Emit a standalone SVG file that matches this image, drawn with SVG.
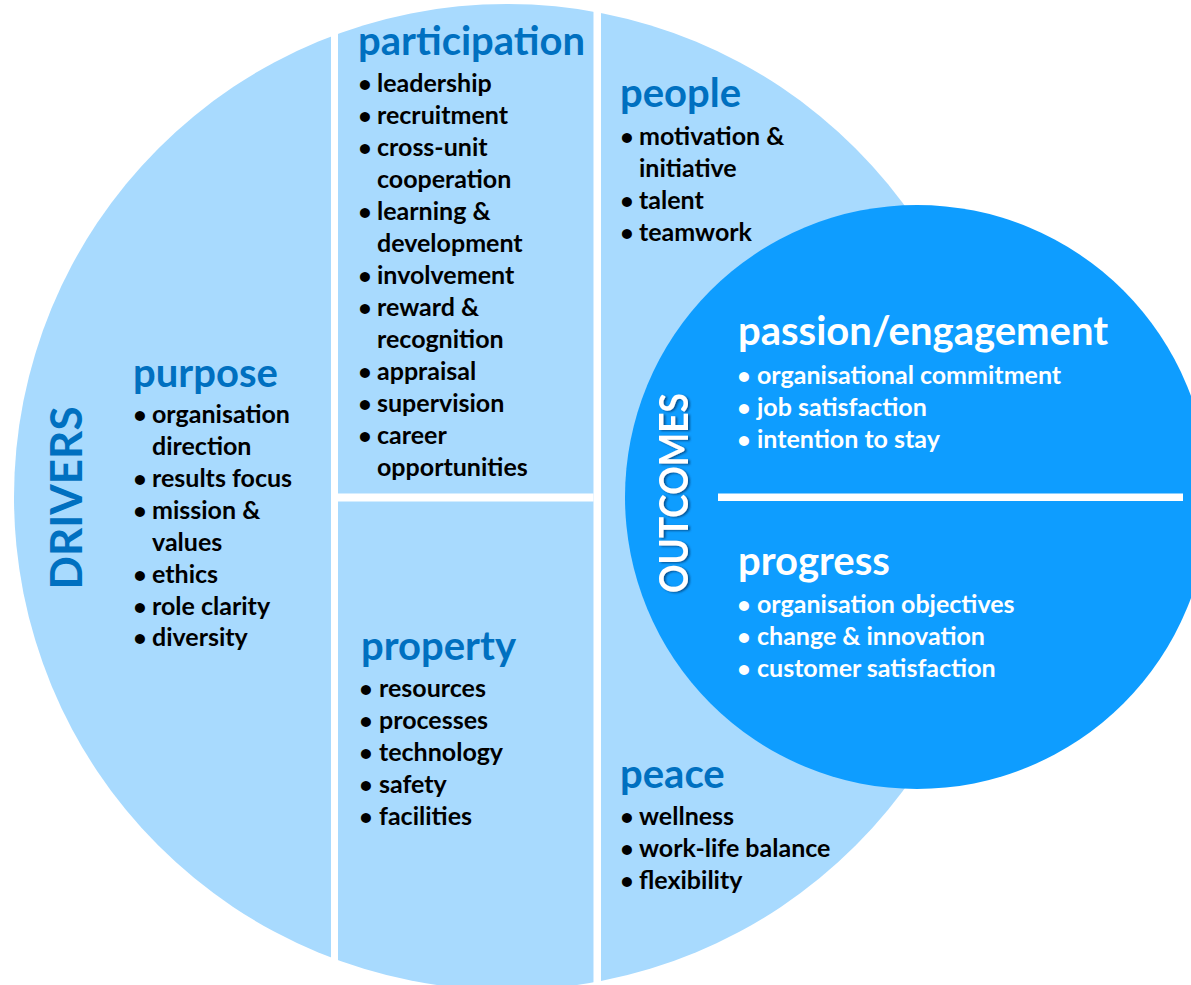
<svg xmlns="http://www.w3.org/2000/svg" width="1191" height="985" viewBox="0 0 1191 985">
  <defs>
    <style>
      text { font-family: "Lato", "Liberation Sans", sans-serif; font-weight: 700; }
      .head { font-size: 40px; fill: #0070C0; }
      .item { font-size: 25px; fill: #000000; }
      .bul { font-size: 23px; fill: #000000; text-anchor: middle; }
      .whead { font-size: 40px; fill: #FFFFFF; }
      .witem { font-size: 25px; fill: #FFFFFF; }
      .wbul { font-size: 23px; fill: #FFFFFF; text-anchor: middle; }
      .gap { fill: #FFFFFF; }
    </style>
    <filter id="shade" x="-20%" y="-20%" width="140%" height="140%">
      <feDropShadow dx="2" dy="1" stdDeviation="1.2" flood-color="#003A70" flood-opacity="0.75"/>
    </filter>
  </defs>

  <rect width="1191" height="985" fill="#FFFFFF"/>

  <!-- drivers disc, split into segments by white gaps -->
  <g id="drivers-disc">
    <circle cx="507" cy="497" r="493" fill="#A8DAFE"/>
    <rect class="gap" x="331" y="0" width="7" height="985"/>
    <rect class="gap" x="593.5" y="0" width="7.5" height="985"/>
    <rect class="gap" x="338" y="493.5" width="255.5" height="8"/>
  </g>

  <!-- outcomes disc -->
  <g id="outcomes-disc">
    <circle cx="917" cy="497" r="292" fill="#0E9DFF"/>
    <rect class="gap" x="718" y="493.5" width="465" height="7.5"/>
  </g>

  <g id="drivers-label">
    <text transform="translate(82,498) rotate(-90)" text-anchor="middle" style="font-size:44px;fill:#0070C0">DRIVERS</text>
  </g>

  <g id="outcomes-label" filter="url(#shade)">
    <text transform="translate(688,493) rotate(-90)" text-anchor="middle" textLength="200" lengthAdjust="spacingAndGlyphs" style="font-size:40px;fill:#FFFFFF">OUTCOMES</text>
  </g>

  <g id="purpose">
    <text class="head" x="133" y="387">purpose</text>
    <text class="bul" x="140" y="423">•</text><text class="item" x="152" y="423">organisation</text>
    <text class="item" x="152" y="455">direction</text>
    <text class="bul" x="140" y="487">•</text><text class="item" x="152" y="487">results focus</text>
    <text class="bul" x="140" y="519">•</text><text class="item" x="152" y="519">mission &amp;</text>
    <text class="item" x="152" y="551">values</text>
    <text class="bul" x="140" y="583">•</text><text class="item" x="152" y="583">ethics</text>
    <text class="bul" x="140" y="615">•</text><text class="item" x="152" y="615">role clarity</text>
    <text class="bul" x="140" y="646">•</text><text class="item" x="152" y="646">diversity</text>
  </g>

  <g id="participation">
    <text class="head" x="358" y="55">participation</text>
    <text class="bul" x="365" y="92">•</text><text class="item" x="377" y="92">leadership</text>
    <text class="bul" x="365" y="124">•</text><text class="item" x="377" y="124">recruitment</text>
    <text class="bul" x="365" y="156">•</text><text class="item" x="377" y="156">cross-unit</text>
    <text class="item" x="377" y="188">cooperation</text>
    <text class="bul" x="365" y="220">•</text><text class="item" x="377" y="220">learning &amp;</text>
    <text class="item" x="377" y="252">development</text>
    <text class="bul" x="365" y="284">•</text><text class="item" x="377" y="284">involvement</text>
    <text class="bul" x="365" y="316">•</text><text class="item" x="377" y="316">reward &amp;</text>
    <text class="item" x="377" y="348">recognition</text>
    <text class="bul" x="365" y="380">•</text><text class="item" x="377" y="380">appraisal</text>
    <text class="bul" x="365" y="412">•</text><text class="item" x="377" y="412">supervision</text>
    <text class="bul" x="365" y="444">•</text><text class="item" x="377" y="444">career</text>
    <text class="item" x="377" y="476">opportunities</text>
  </g>

  <g id="property">
    <text class="head" x="361" y="660">property</text>
    <text class="bul" x="366" y="697">•</text><text class="item" x="379" y="697">resources</text>
    <text class="bul" x="366" y="729">•</text><text class="item" x="379" y="729">processes</text>
    <text class="bul" x="366" y="761">•</text><text class="item" x="379" y="761">technology</text>
    <text class="bul" x="366" y="793">•</text><text class="item" x="379" y="793">safety</text>
    <text class="bul" x="366" y="825">•</text><text class="item" x="379" y="825">facilities</text>
  </g>

  <g id="people">
    <text class="head" x="620" y="107">people</text>
    <text class="bul" x="627" y="145">•</text><text class="item" x="639" y="145">motivation &amp;</text>
    <text class="item" x="639" y="177">initiative</text>
    <text class="bul" x="627" y="209">•</text><text class="item" x="639" y="209">talent</text>
    <text class="bul" x="627" y="241">•</text><text class="item" x="639" y="241">teamwork</text>
  </g>

  <g id="peace">
    <text class="head" x="620" y="788">peace</text>
    <text class="bul" x="627" y="825">•</text><text class="item" x="639" y="825">wellness</text>
    <text class="bul" x="627" y="857">•</text><text class="item" x="639" y="857">work-life balance</text>
    <text class="bul" x="627" y="889">•</text><text class="item" x="639" y="889">flexibility</text>
  </g>

  <g id="passion-engagement">
    <text class="whead" x="738" y="345">passion/engagement</text>
    <text class="wbul" x="744" y="384">•</text><text class="witem" x="757" y="384">organisational commitment</text>
    <text class="wbul" x="744" y="416">•</text><text class="witem" x="757" y="416">job satisfaction</text>
    <text class="wbul" x="744" y="448">•</text><text class="witem" x="757" y="448">intention to stay</text>
  </g>

  <g id="progress">
    <text class="whead" x="738" y="575">progress</text>
    <text class="wbul" x="744" y="613">•</text><text class="witem" x="757" y="613">organisation objectives</text>
    <text class="wbul" x="744" y="645">•</text><text class="witem" x="757" y="645">change &amp; innovation</text>
    <text class="wbul" x="744" y="677">•</text><text class="witem" x="757" y="677">customer satisfaction</text>
  </g>
</svg>
